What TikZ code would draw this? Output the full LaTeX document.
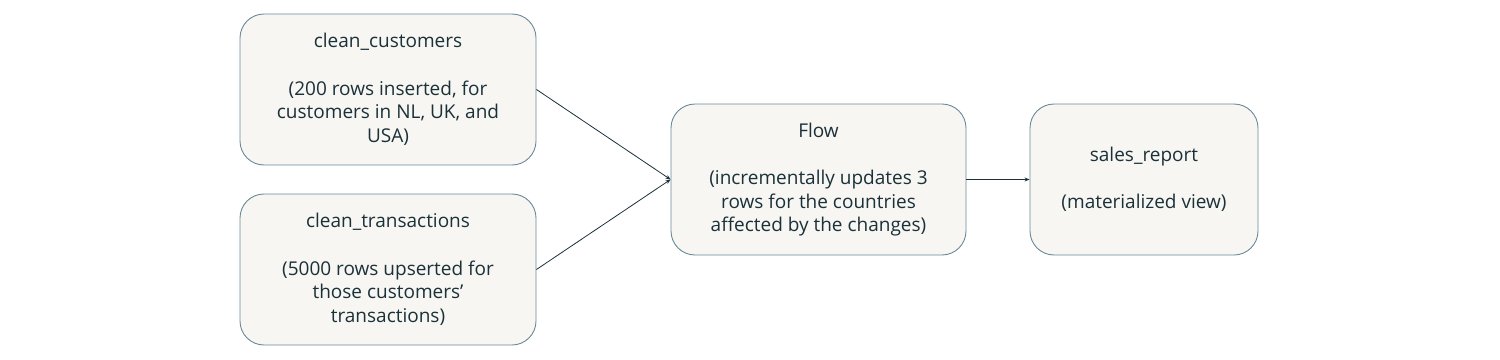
\documentclass[tikz,border=0pt]{standalone}
\usepackage{fontspec}
\setmainfont{Open Sans}
\usetikzlibrary{arrows.meta}
\definecolor{boxfill}{HTML}{F7F6F2}
\definecolor{boxline}{HTML}{6A8A99}
\definecolor{txt}{HTML}{1B3139}
\begin{document}
\begin{tikzpicture}[x=1pt,y=-1pt,
  box/.style={draw=boxline,line width=0.9pt,fill=boxfill,rounded corners=24pt,
    inner sep=0pt,align=center,text=txt,
    font=\fontsize{19}{23.5}\selectfont},
  conn/.style={draw=txt,line width=0.8pt,-{Stealth[length=5pt,width=4pt]}}]
\useasboundingbox (0,0) rectangle (1500,359);
\node[box,minimum width=296pt,minimum height=151pt] (cc) at (388,89.5)
  {clean\_customers\\[24pt](200 rows inserted, for\\customers in NL, UK, and\\USA)};
\node[box,minimum width=296pt,minimum height=151pt] (ct) at (388,269.5)
  {clean\_transactions\\[24pt](5000 rows upserted for\\those customers'\\transactions)};
\node[box,minimum width=295pt,minimum height=151pt] (fl) at (818.5,179.5)
  {Flow\\[24pt](incrementally updates 3\\rows for the countries\\affected by the changes)};
\node[box,minimum width=228pt,minimum height=151pt] (sr) at (1144,179.5)
  {sales\_report\\[23pt](materialized view)};
\draw[conn] (cc.east) -- (fl.west);
\draw[conn] (ct.east) -- (fl.west);
\draw[conn] (fl.east) -- (sr.west);
\end{tikzpicture}
\end{document}
